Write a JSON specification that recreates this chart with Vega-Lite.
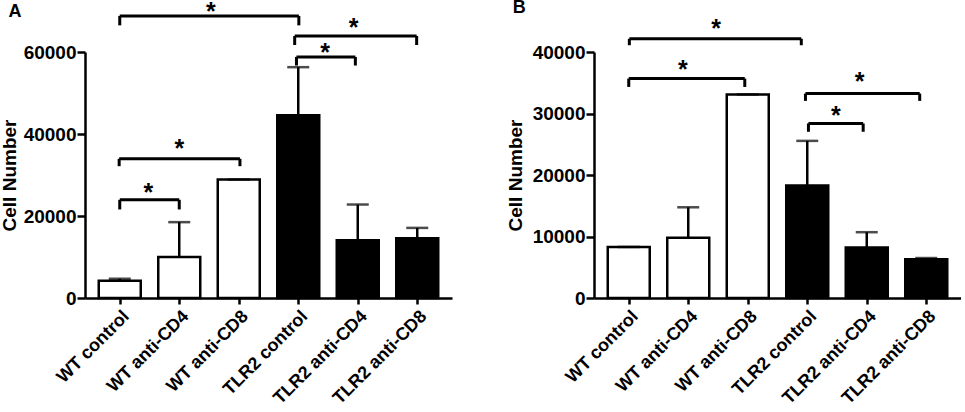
{
  "$schema": "https://vega.github.io/schema/vega-lite/v6.json",
  "padding": {"left": 0, "top": -1, "right": 0, "bottom": 0},
  "spacing": 54,
  "datasets": {
    "barsA": [
      {"group": 1, "strain": "WT", "value": 4200, "hi": 4700},
      {"group": 2, "strain": "WT", "value": 10000, "hi": 18500},
      {"group": 3, "strain": "WT", "value": 28900, "hi": 28900},
      {"group": 4, "strain": "TLR2", "value": 44600, "hi": 56300},
      {"group": 5, "strain": "TLR2", "value": 14100, "hi": 22800},
      {"group": 6, "strain": "TLR2", "value": 14600, "hi": 17100}
    ],
    "bracketsA": [
      {"x1": 1, "x2": 4.01, "y": 68800, "yleg": 66500, "xs": 2.53, "ys": 71500},
      {"x1": 3.94, "x2": 5.99, "y": 63900, "yleg": 61700, "xs": 4.93, "ys": 67650},
      {"x1": 3.97, "x2": 4.96, "y": 58800, "yleg": 56700, "xs": 4.45, "ys": 61400},
      {"x1": 0.99, "x2": 3.02, "y": 33950, "yleg": 32150, "xs": 2.0, "ys": 38000},
      {"x1": 1, "x2": 2, "y": 23950, "yleg": 21600, "xs": 1.48, "ys": 27200}
    ],
    "barsB": [
      {"group": 1, "strain": "WT", "value": 8300, "hi": 8300},
      {"group": 2, "strain": "WT", "value": 9800, "hi": 14750},
      {"group": 3, "strain": "WT", "value": 33100, "hi": 33100},
      {"group": 4, "strain": "TLR2", "value": 18300, "hi": 25550},
      {"group": 5, "strain": "TLR2", "value": 8200, "hi": 10700},
      {"group": 6, "strain": "TLR2", "value": 6300, "hi": 6500}
    ],
    "bracketsB": [
      {"x1": 1.01, "x2": 3.9, "y": 42150, "yleg": 41100, "xs": 2.47, "ys": 44800},
      {"x1": 1.0, "x2": 2.95, "y": 35680, "yleg": 34320, "xs": 1.91, "ys": 38270},
      {"x1": 3.97, "x2": 5.89, "y": 33240, "yleg": 32050, "xs": 4.88, "ys": 36270},
      {"x1": 4.02, "x2": 4.94, "y": 28380, "yleg": 27030, "xs": 4.48, "ys": 30750}
    ]
  },
  "hconcat": [
    {
      "width": 367,
      "height": 246,
      "layer": [
        {
          "data": {"name": "barsA"},
          "mark": {"type": "bar", "orient": "vertical", "size": 42, "stroke": "black", "strokeWidth": 2.5},
          "encoding": {
            "x": {"field": "group", "type": "quantitative", "scale": {"domain": [0.5, 6.5], "nice": false, "zero": false},
              "axis": {"values": [1, 2, 3, 4, 5, 6], "title": null, "labelAngle": -45, "labelAlign": "right", "labelBaseline": "top", "labelFontSize": 18, "tickSize": 6, "labelPadding": 3, "labelOverlap": false, "labelBound": false, "labelFlush": false,
                "labelExpr": "['', 'WT control', 'WT anti-CD4', 'WT anti-CD8', 'TLR2 control', 'TLR2 anti-CD4', 'TLR2 anti-CD8'][datum.value]"}},
            "y": {"field": "value", "type": "quantitative", "stack": null, "scale": {"domain": [0, 60000], "nice": false},
              "axis": {"values": [0, 20000, 40000, 60000], "format": "d", "title": "Cell Number", "labelFontSize": 19, "titleFontSize": 19, "tickSize": 8, "labelPadding": 1, "titlePadding": 4, "labelOverlap": false, "labelFlush": false}},
            "color": {"field": "strain", "type": "nominal", "scale": {"domain": ["WT", "TLR2"], "range": ["white", "black"]}, "legend": null}
          }
        },
        {
          "data": {"name": "barsA"},
          "mark": {"type": "rule", "color": "black", "strokeWidth": 2.5},
          "encoding": {"x": {"field": "group", "type": "quantitative"}, "y": {"field": "value", "type": "quantitative"}, "y2": {"field": "hi"}}
        },
        {
          "data": {"name": "barsA"},
          "mark": {"type": "tick", "orient": "horizontal", "color": "black", "size": 22, "thickness": 2.5},
          "encoding": {"x": {"field": "group", "type": "quantitative"}, "y": {"field": "hi", "type": "quantitative"}}
        },
        {
          "data": {"name": "bracketsA"},
          "mark": {"type": "rule", "color": "black", "strokeWidth": 3},
          "encoding": {"x": {"field": "x1", "type": "quantitative"}, "x2": {"field": "x2"}, "y": {"field": "y", "type": "quantitative"}}
        },
        {
          "data": {"name": "bracketsA"},
          "mark": {"type": "rule", "color": "black", "strokeWidth": 3},
          "encoding": {"x": {"field": "x1", "type": "quantitative"}, "y": {"field": "y", "type": "quantitative"}, "y2": {"field": "yleg"}}
        },
        {
          "data": {"name": "bracketsA"},
          "mark": {"type": "rule", "color": "black", "strokeWidth": 3},
          "encoding": {"x": {"field": "x2", "type": "quantitative"}, "y": {"field": "y", "type": "quantitative"}, "y2": {"field": "yleg"}}
        },
        {
          "data": {"name": "bracketsA"},
          "mark": {"type": "text", "text": "*", "fontSize": 25, "fontWeight": "bold", "baseline": "middle", "dy": 7, "color": "black"},
          "encoding": {"x": {"field": "xs", "type": "quantitative"}, "y": {"field": "ys", "type": "quantitative"}}
        },
        {
          "data": {"values": [{"letter": "A", "x": -0.76, "y": 69700}]},
          "mark": {"type": "text", "fontSize": 18, "fontWeight": "bold", "baseline": "middle", "align": "center", "color": "black"},
          "encoding": {"x": {"field": "x", "type": "quantitative"}, "y": {"field": "y", "type": "quantitative"}, "text": {"field": "letter"}}
        }
      ]
    },
    {
      "width": 367,
      "height": 246,
      "layer": [
        {
          "data": {"name": "barsB"},
          "mark": {"type": "bar", "orient": "vertical", "size": 42, "stroke": "black", "strokeWidth": 2.5},
          "encoding": {
            "x": {"field": "group", "type": "quantitative", "scale": {"domain": [0.5, 6.5], "nice": false, "zero": false},
              "axis": {"values": [1, 2, 3, 4, 5, 6], "title": null, "labelAngle": -45, "labelAlign": "right", "labelBaseline": "top", "labelFontSize": 18, "tickSize": 6, "labelPadding": 3, "labelOverlap": false, "labelBound": false, "labelFlush": false,
                "labelExpr": "['', 'WT control', 'WT anti-CD4', 'WT anti-CD8', 'TLR2 control', 'TLR2 anti-CD4', 'TLR2 anti-CD8'][datum.value]"}},
            "y": {"field": "value", "type": "quantitative", "stack": null, "scale": {"domain": [0, 40000], "nice": false},
              "axis": {"values": [0, 10000, 20000, 30000, 40000], "format": "d", "title": "Cell Number", "labelFontSize": 19, "titleFontSize": 19, "tickSize": 8, "labelPadding": 1, "titlePadding": 7, "labelOverlap": false, "labelFlush": false}},
            "color": {"field": "strain", "type": "nominal", "scale": {"domain": ["WT", "TLR2"], "range": ["white", "black"]}, "legend": null}
          }
        },
        {
          "data": {"name": "barsB"},
          "mark": {"type": "rule", "color": "black", "strokeWidth": 2.5},
          "encoding": {"x": {"field": "group", "type": "quantitative"}, "y": {"field": "value", "type": "quantitative"}, "y2": {"field": "hi"}}
        },
        {
          "data": {"name": "barsB"},
          "mark": {"type": "tick", "orient": "horizontal", "color": "black", "size": 22, "thickness": 2.5},
          "encoding": {"x": {"field": "group", "type": "quantitative"}, "y": {"field": "hi", "type": "quantitative"}}
        },
        {
          "data": {"name": "bracketsB"},
          "mark": {"type": "rule", "color": "black", "strokeWidth": 3},
          "encoding": {"x": {"field": "x1", "type": "quantitative"}, "x2": {"field": "x2"}, "y": {"field": "y", "type": "quantitative"}}
        },
        {
          "data": {"name": "bracketsB"},
          "mark": {"type": "rule", "color": "black", "strokeWidth": 3},
          "encoding": {"x": {"field": "x1", "type": "quantitative"}, "y": {"field": "y", "type": "quantitative"}, "y2": {"field": "yleg"}}
        },
        {
          "data": {"name": "bracketsB"},
          "mark": {"type": "rule", "color": "black", "strokeWidth": 3},
          "encoding": {"x": {"field": "x2", "type": "quantitative"}, "y": {"field": "y", "type": "quantitative"}, "y2": {"field": "yleg"}}
        },
        {
          "data": {"name": "bracketsB"},
          "mark": {"type": "text", "text": "*", "fontSize": 25, "fontWeight": "bold", "baseline": "middle", "dy": 7, "color": "black"},
          "encoding": {"x": {"field": "xs", "type": "quantitative"}, "y": {"field": "ys", "type": "quantitative"}}
        },
        {
          "data": {"values": [{"letter": "B", "x": -0.84, "y": 47100}]},
          "mark": {"type": "text", "fontSize": 18, "fontWeight": "bold", "baseline": "middle", "align": "center", "color": "black"},
          "encoding": {"x": {"field": "x", "type": "quantitative"}, "y": {"field": "y", "type": "quantitative"}, "text": {"field": "letter"}}
        }
      ]
    }
  ],
  "config": {
    "view": {"stroke": null},
    "font": "Liberation Sans",
    "text": {"font": "Liberation Sans"},
    "axis": {
      "grid": false,
      "domainColor": "black",
      "domainWidth": 2.5,
      "tickColor": "black",
      "tickWidth": 2.5,
      "labelColor": "black",
      "labelFont": "Liberation Sans",
      "labelFontWeight": "bold",
      "titleColor": "black",
      "titleFont": "Liberation Sans",
      "titleFontWeight": "bold"
    }
  }
}
